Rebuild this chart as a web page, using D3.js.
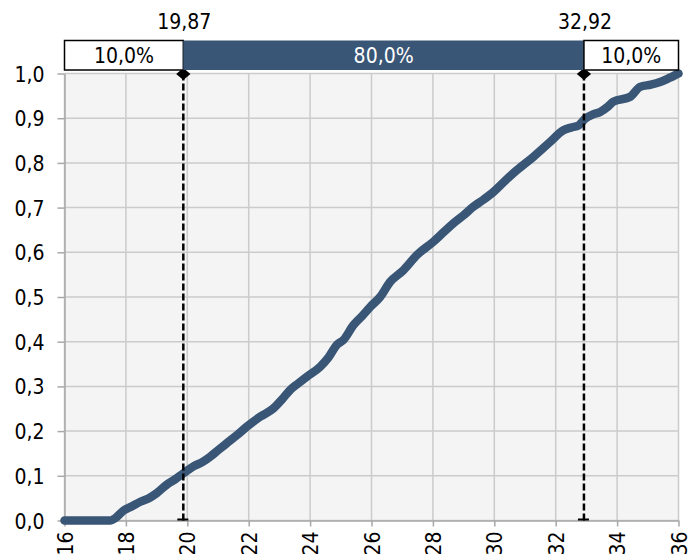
<!DOCTYPE html>
<html>
<head>
<meta charset="utf-8">
<script src="https://cdn.jsdelivr.net/npm/d3@7"></script>
<style>
  html, body { margin: 0; padding: 0; background: #ffffff; }
  svg { display: block; }
  text { font-family: "DejaVu Sans Condensed", "DejaVu Sans", sans-serif; font-stretch: condensed; }
</style>
</head>
<body>
<svg id="chart" width="689" height="560"></svg>
<script>
// ---- data ----
const curveX = [16, 17.5, 17.65, 17.92, 18.2, 18.47, 18.75, 19.0, 19.33, 19.6, 19.88, 20.2, 20.5, 20.75, 21.0, 21.29, 21.6, 21.94, 22.37, 22.81, 23.1, 23.35, 23.6, 23.9, 24.33, 24.6, 24.87, 25.09, 25.41, 25.7, 25.96, 26.28, 26.61, 27.04, 27.48, 28.02, 28.35, 28.67, 29.0, 29.32, 29.65, 29.97, 30.35, 30.74, 31.28, 31.82, 32.25, 32.5, 32.75, 32.96, 33.2, 33.45, 33.7, 33.88, 34.43, 34.75, 35.1, 35.4, 35.7, 35.94, 36];
const curveP = [0, 0, 0.005, 0.022, 0.032, 0.042, 0.05, 0.061, 0.08, 0.092, 0.106, 0.121, 0.131, 0.143, 0.157, 0.173, 0.19, 0.21, 0.232, 0.251, 0.272, 0.292, 0.306, 0.322, 0.344, 0.365, 0.393, 0.404, 0.437, 0.458, 0.478, 0.5, 0.534, 0.56, 0.594, 0.624, 0.645, 0.665, 0.683, 0.702, 0.718, 0.735, 0.76, 0.784, 0.814, 0.847, 0.873, 0.879, 0.884, 0.899, 0.908, 0.914, 0.926, 0.937, 0.948, 0.97, 0.975, 0.981, 0.99, 0.998, 1.0];
const quantiles = [19.87, 32.92];
const quantileLabels = ["19,87", "32,92"];
const bandPercents = ["10,0%", "80,0%", "10,0%"];
const xTicks = [16, 18, 20, 22, 24, 26, 28, 30, 32, 34, 36];
const yTicks = [0, 0.1, 0.2, 0.3, 0.4, 0.5, 0.6, 0.7, 0.8, 0.9, 1.0];

// ---- layout ----
const W = 689, H = 560;
const m = { left: 64.5, right: 10.5, top: 73.5, bottom: 39.5 };
const blue = "#3a5676";
const FS = "21px";
const svg = d3.select("#chart");

const x = d3.scaleLinear().domain([16, 36]).range([m.left, W - m.right]);
const y = d3.scaleLinear().domain([0, 1]).range([H - m.bottom, m.top]);
const fmt = d => d.toFixed(1).replace(".", ",");

// plot background
svg.append("rect")
  .attr("x", x(16)).attr("y", y(1))
  .attr("width", x(36) - x(16)).attr("height", y(0) - y(1))
  .attr("fill", "#f4f4f4");

// gridlines
svg.append("g").selectAll("line").data(xTicks).join("line")
  .attr("x1", d => x(d)).attr("x2", d => x(d))
  .attr("y1", y(0)).attr("y2", y(1))
  .attr("stroke", "#cbcbcb").attr("stroke-width", 1.5);
svg.append("g").selectAll("line").data(yTicks).join("line")
  .attr("x1", x(16)).attr("x2", x(36))
  .attr("y1", d => y(d)).attr("y2", d => y(d))
  .attr("stroke", "#cbcbcb").attr("stroke-width", 1.5);

// axes
const yAxis = svg.append("g")
  .attr("transform", `translate(${x(16)},0)`)
  .call(d3.axisLeft(y).tickValues(yTicks).tickFormat(fmt).tickSize(7).tickSizeOuter(0));
const xAxis = svg.append("g")
  .attr("transform", `translate(0,${y(0)})`)
  .call(d3.axisBottom(x).tickValues(xTicks).tickFormat(d => d).tickSize(6).tickSizeOuter(0));
[yAxis, xAxis].forEach(a => {
  a.select(".domain").attr("stroke", "#a8a8a8").attr("stroke-width", 1.5);
  a.selectAll(".tick line").attr("stroke", "#a8a8a8").attr("stroke-width", 1.5);
  a.selectAll("text").attr("fill", "#000").style("font-size", FS)
    .style("font-family", '"DejaVu Sans Condensed", "DejaVu Sans", sans-serif');
});
yAxis.selectAll("text").attr("x", -20).attr("dy", "0.36em");
xAxis.selectAll("text")
  .attr("transform", "rotate(-90)")
  .attr("text-anchor", "end")
  .attr("x", -11).attr("y", 0).attr("dy", "0.36em");

// curve
svg.append("path")
  .datum(d3.zip(curveX, curveP))
  .attr("fill", "none")
  .attr("stroke", blue)
  .attr("stroke-width", 8.5)
  .attr("stroke-linejoin", "round")
  .attr("stroke-linecap", "round")
  .attr("d", d3.line().x(d => x(d[0])).y(d => y(d[1])).curve(d3.curveMonotoneX));

// quantile dashed lines
svg.append("g").selectAll("line").data(quantiles).join("line")
  .attr("x1", d => x(d)).attr("x2", d => x(d))
  .attr("y1", y(0)).attr("y2", y(1))
  .attr("stroke", "#000").attr("stroke-width", 2.5)
  .attr("stroke-dasharray", "7,3");
// bottom small caps
svg.append("g").selectAll("line").data(quantiles).join("line")
  .attr("x1", d => x(d) - 6).attr("x2", d => x(d) + 5)
  .attr("y1", y(0) - 1).attr("y2", y(0) - 1)
  .attr("stroke", "#000").attr("stroke-width", 2);
// diamonds
svg.append("g").selectAll("path").data(quantiles).join("path")
  .attr("d", d3.symbol(d3.symbolSquare, 52)())
  .attr("transform", d => `translate(${x(d)},${y(1) + 0.5}) scale(1.4,1.2) rotate(45)`)
  .attr("fill", "#000");

// band boxes
const bandTop = 40.5, bandH = 29.5;
const bandEdges = [16, quantiles[0], quantiles[1], 36];
const bands = bandPercents.map((t, i) => ({ t, a: bandEdges[i], b: bandEdges[i + 1], mid: i === 1 }));
const bg = svg.append("g");
bg.selectAll("rect").data(bands).join("rect")
  .attr("x", d => x(d.a)).attr("y", bandTop)
  .attr("width", d => x(d.b) - x(d.a)).attr("height", bandH)
  .attr("fill", d => d.mid ? blue : "#fff")
  .attr("stroke", d => d.mid ? "none" : "#000")
  .attr("stroke-width", 1.5);
bg.selectAll("text").data(bands).join("text")
  .attr("x", d => (x(d.a) + x(d.b)) / 2)
  .attr("y", bandTop + bandH / 2)
  .attr("dy", "0.36em")
  .attr("text-anchor", "middle")
  .attr("fill", d => d.mid ? "#fff" : "#000")
  .style("font-size", FS)
  .text(d => d.t);

// quantile value labels
svg.append("g").selectAll("text").data(quantiles).join("text")
  .attr("x", d => x(d) + 1)
  .attr("y", 29)
  .attr("text-anchor", "middle")
  .attr("fill", "#000")
  .style("font-size", FS)
  .text((d, i) => quantileLabels[i]);
</script>
</body>
</html>
